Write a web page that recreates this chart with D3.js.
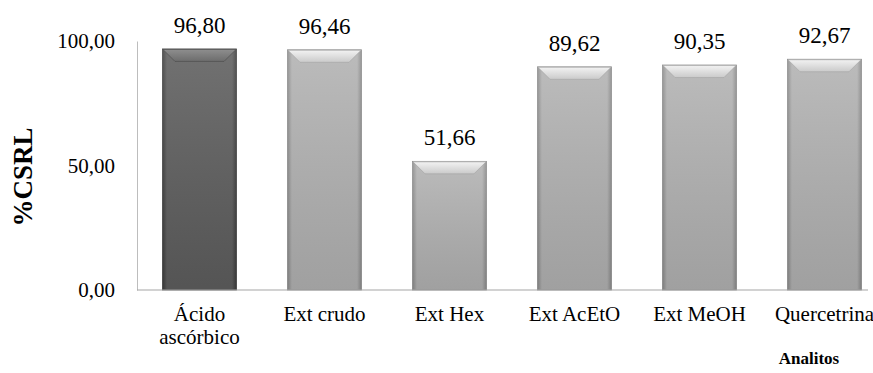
<!DOCTYPE html>
<html>
<head>
<meta charset="utf-8">
<script src="https://cdn.jsdelivr.net/npm/d3@7"></script>
<style>
  body { margin: 0; background: #fff; }
  svg text { font-family: "Liberation Serif", "Times New Roman", Times, "DejaVu Serif", serif; fill: #000; }
</style>
</head>
<body>
<div class="chart"></div>
<script>
const w = 873;
const h = 373;

// data
const categories = ["Ácido ascórbico", "Ext crudo", "Ext Hex", "Ext AcEtO", "Ext MeOH", "Quercetrina"];
const values = [96.80, 96.46, 51.66, 89.62, 90.35, 92.67];
const yTicks = [0, 50, 100];

const serif = '"Liberation Serif", "Times New Roman", Times, "DejaVu Serif", serif';

const locale = d3.formatLocale({decimal: ",", thousands: ".", grouping: [3], currency: ["", ""]});
const fmt = locale.format(".2f");

const svg = d3.select(".chart").append("svg")
    .attr("width", w)
    .attr("height", h)
    .style("font-family", serif);

const defs = svg.append("defs");

// body gradient, darker at the side edges
function bodyGrad(id, edge, mid) {
  const g = defs.append("linearGradient").attr("id", id)
      .attr("x1", 0).attr("x2", 1).attr("y1", 0).attr("y2", 0);
  g.append("stop").attr("offset", "0%").attr("stop-color", edge);
  g.append("stop").attr("offset", "6%").attr("stop-color", mid);
  g.append("stop").attr("offset", "94%").attr("stop-color", mid);
  g.append("stop").attr("offset", "100%").attr("stop-color", edge);
}
bodyGrad("darkBody", "#3c3c3c", "#5e5e5e");
bodyGrad("lightBody", "#8a8a8a", "#b2b2b2");

function shadeGrad(id) {
  const g = defs.append("linearGradient").attr("id", id)
      .attr("x1", 0).attr("x2", 0).attr("y1", 0).attr("y2", 1);
  g.append("stop").attr("offset", "0%").attr("stop-color", "#fff").attr("stop-opacity", 0.12);
  g.append("stop").attr("offset", "100%").attr("stop-color", "#000").attr("stop-opacity", 0.1);
}
shadeGrad("shade");

function bevelGrad(id, top, bottom) {
  const g = defs.append("linearGradient").attr("id", id)
      .attr("x1", 0).attr("x2", 0).attr("y1", 0).attr("y2", 1);
  g.append("stop").attr("offset", "0%").attr("stop-color", top);
  g.append("stop").attr("offset", "100%").attr("stop-color", bottom);
}
bevelGrad("darkBevel", "#8e8e8e", "#6c6c6c");
bevelGrad("lightBevel", "#f2f2f2", "#cacaca");

const x = d3.scaleBand()
    .domain(categories)
    .range([137, 887])
    .paddingInner(0.408)
    .paddingOuter(0.204);

const y = d3.scaleLinear()
    .domain([0, 100])
    .range([290, 41]);

// y axis (no tick marks, just line + labels)
const yAxis = d3.axisLeft(y)
    .tickValues(yTicks)
    .tickSize(0)
    .tickPadding(22)
    .tickFormat(fmt);

const gy = svg.append("g")
    .attr("transform", "translate(137,0)")
    .call(yAxis)
    .attr("font-family", serif);
gy.select(".domain").attr("stroke", "#bdbdbd").attr("stroke-width", 1);
gy.selectAll("text")
    .style("font-size", "21px")
    .attr("dy", "0.33em");

// bars
const bars = svg.append("g").selectAll("g")
    .data(categories)
    .enter()
    .append("g");

bars.append("rect")
    .attr("x", d => x(d))
    .attr("y", (d, i) => y(values[i]))
    .attr("width", x.bandwidth())
    .attr("height", (d, i) => y(0) - y(values[i]))
    .attr("fill", (d, i) => i === 0 ? "url(#darkBody)" : "url(#lightBody)")
    .attr("stroke", (d, i) => i === 0 ? "#444" : "#8c8c8c")
    .attr("stroke-width", 0.8);

bars.append("rect")
    .attr("x", d => x(d))
    .attr("y", (d, i) => y(values[i]))
    .attr("width", x.bandwidth())
    .attr("height", (d, i) => y(0) - y(values[i]))
    .attr("fill", "url(#shade)");

// bevel at the top of each bar
const bev = 12;
bars.append("path")
    .attr("d", (d, i) => {
      const x0 = x(d) + 0.5, x1 = x(d) + x.bandwidth() - 0.5, t = y(values[i]) + 0.5;
      return `M${x0},${t}L${x1},${t}L${x1 - bev},${t + bev}L${x0 + bev},${t + bev}Z`;
    })
    .attr("fill", (d, i) => i === 0 ? "url(#darkBevel)" : "url(#lightBevel)")
    .attr("stroke", (d, i) => i === 0 ? "#4a4a4a" : "#a4a4a4")
    .attr("stroke-width", 0.6);

// value labels
bars.append("text")
    .attr("x", d => x(d) + x.bandwidth() / 2)
    .attr("y", (d, i) => y(values[i]) - 16)
    .attr("text-anchor", "middle")
    .style("font-size", "23px")
    .text((d, i) => fmt(values[i]));

// x axis line
svg.append("line")
    .attr("x1", 137).attr("x2", 868)
    .attr("y1", y(0)).attr("y2", y(0))
    .attr("stroke", "#a6a6a6")
    .attr("stroke-width", 1.2);

// category labels (wrap first one)
const xl = svg.append("g").selectAll("text")
    .data(categories)
    .enter()
    .append("text")
    .attr("x", d => x(d) + x.bandwidth() / 2)
    .attr("y", 321)
    .attr("text-anchor", "middle")
    .style("font-size", "21px");

xl.each(function(d) {
  const parts = d === "Ácido ascórbico" ? ["Ácido", "ascórbico"] : [d];
  const t = d3.select(this);
  parts.forEach((p, k) => {
    t.append("tspan")
      .attr("x", x(d) + x.bandwidth() / 2)
      .attr("dy", k === 0 ? 0 : 23)
      .text(p);
  });
});

// axis titles
svg.append("text")
    .attr("transform", "translate(32,177) rotate(-90)")
    .attr("text-anchor", "middle")
    .style("font-size", "27px")
    .style("font-weight", "bold")
    .text("%CSRL");

svg.append("text")
    .attr("x", 809)
    .attr("y", 364)
    .attr("text-anchor", "middle")
    .style("font-size", "17px")
    .style("font-weight", "bold")
    .text("Analitos");
</script>
</body>
</html>
